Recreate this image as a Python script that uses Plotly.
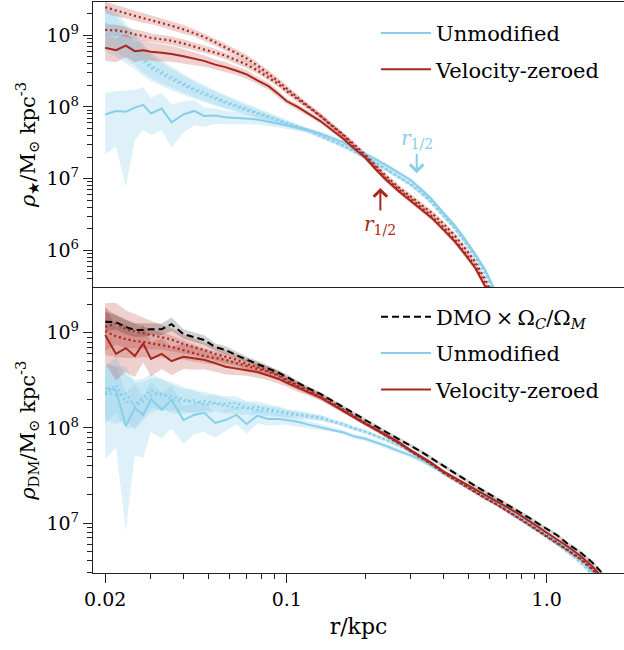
import math
import plotly.graph_objects as go

# ---------------- data ----------------
r_star = [0.020, 0.022, 0.024, 0.026, 0.028, 0.030, 0.033, 0.036, 0.040, 0.044,
          0.048, 0.053, 0.058, 0.064, 0.070, 0.077, 0.085, 0.093, 0.10, 0.11,
          0.12, 0.135, 0.15, 0.165, 0.18, 0.20, 0.22, 0.24, 0.27, 0.30,
          0.33, 0.36, 0.40, 0.44, 0.48, 0.53, 0.58, 0.64, 0.70, 0.77]
r_dm = [0.020, 0.022, 0.024, 0.026, 0.028, 0.030, 0.033, 0.036, 0.040, 0.044,
        0.048, 0.053, 0.058, 0.064, 0.070, 0.077, 0.085, 0.093, 0.10, 0.11,
        0.12, 0.135, 0.15, 0.165, 0.18, 0.20, 0.22, 0.24, 0.27, 0.30,
        0.33, 0.36, 0.40, 0.44, 0.48, 0.53, 0.58, 0.64, 0.70, 0.77,
        0.85, 0.93, 1.0, 1.1, 1.2, 1.35, 1.5, 1.65]

# stellar density, Msun/kpc^3
star_unmod = [7.85e7, 8.8e7, 8.6e7, 9.8e7, 1.07e8, 8.1e7, 9.5e7, 6.1e7, 7.85e7, 8.8e7,
              7.5e7, 7.6e7, 7.2e7, 7.0e7, 6.9e7, 6.7e7, 6.2e7, 5.8e7, 5.5e7, 5.1e7,
              4.8e7, 4.25e7, 3.7e7, 3.2e7, 2.7e7, 2.24e7, 1.85e7, 1.55e7, 1.21e7, 9.5e6,
              7.0e6, 5.2e6, 3.35e6, 2.27e6, 1.5e6, 8.9e5, 5.3e5, 2.6e5, 1.3e5, 6.0e4]
star_unmod_dot_a = [1.47e9, 1.17e9, 8.2e8, 6.4e8, 4.8e8, 3.8e8, 3.1e8, 2.6e8, 2.13e8, 1.82e8,
                    1.57e8, 1.36e8, 1.19e8, 1.05e8, 9.4e7, 8.4e7, 7.4e7, 6.6e7, 6.0e7, 5.3e7,
                    4.8e7, 4.0e7, 3.4e7, 2.9e7, 2.47e7, 2.03e7, 1.68e7, 1.38e7, 1.07e7, 8.4e6,
                    6.4e6, 4.8e6, 3.1e6, 2.13e6, 1.4e6, 8.4e5, 5.0e5, 2.4e5, 1.2e5, 5.5e4]
star_unmod_dot_b = [1.2e9, 9.5e8, 7.2e8, 5.6e8, 4.3e8, 3.5e8, 2.85e8, 2.4e8, 2.0e8, 1.7e8,
                    1.48e8, 1.3e8, 1.14e8, 1.0e8, 9.0e7, 8.1e7, 7.2e7, 6.4e7, 5.8e7, 5.2e7,
                    4.65e7, 3.9e7, 3.3e7, 2.85e7, 2.42e7, 2.0e7, 1.65e7, 1.36e7, 1.05e7, 8.2e6,
                    6.2e6, 4.6e6, 3.0e6, 2.05e6, 1.35e6, 8.0e5, 4.7e5, 2.3e5, 1.1e5, 5.0e4]
star_vz = [6.7e8, 6.2e8, 7.2e8, 6.0e8, 6.2e8, 5.9e8, 5.7e8, 5.5e8, 5.1e8, 4.7e8,
           4.4e8, 3.9e8, 3.6e8, 3.2e8, 2.85e8, 2.35e8, 1.95e8, 1.5e8, 1.2e8, 1.0e8,
           8.2e7, 6.3e7, 4.7e7, 3.6e7, 2.7e7, 1.97e7, 1.34e7, 9.7e6, 6.6e6, 4.9e6,
           3.7e6, 2.85e6, 1.94e6, 1.36e6, 9.2e5, 5.7e5, 3.1e5, 1.6e5, 8.0e4, 4.0e4]
star_vz_dot_a = [2.47e9, 2.2e9, 2.03e9, 1.87e9, 1.74e9, 1.65e9, 1.5e9, 1.36e9, 1.21e9, 1.08e9,
                 9.5e8, 8.0e8, 6.8e8, 5.7e8, 4.77e8, 3.8e8, 2.94e8, 2.27e8, 1.8e8, 1.36e8,
                 1.05e8, 7.6e7, 5.5e7, 4.1e7, 3.09e7, 2.17e7, 1.52e7, 1.1e7, 7.5e6, 5.6e6,
                 4.3e6, 3.35e6, 2.35e6, 1.65e6, 1.12e6, 6.9e5, 3.9e5, 2.0e5, 1.0e5, 5.0e4]
star_vz_dot_b = [1.19e9, 1.17e9, 1.12e9, 1.03e9, 9.8e8, 9.2e8, 8.8e8, 8.4e8, 7.7e8, 7.0e8,
                 6.4e8, 5.8e8, 5.2e8, 4.5e8, 3.9e8, 3.24e8, 2.6e8, 2.07e8, 1.65e8, 1.27e8,
                 1.02e8, 7.4e7, 5.3e7, 4.0e7, 2.9e7, 2.05e7, 1.42e7, 1.02e7, 7.0e6, 5.2e6,
                 3.95e6, 3.0e6, 2.1e6, 1.45e6, 9.8e5, 6.1e5, 3.4e5, 1.7e5, 8.5e4, 4.0e4]

# scatter half-widths (dex)
star_unmod_hi = [0.30, 0.28, 0.30, 0.25, 0.25, 0.22, 0.22, 0.25, 0.18, 0.15,
                 0.12, 0.10, 0.09, 0.08, 0.07, 0.06, 0.05, 0.05, 0.04, 0.04] + [0.03] * 20
star_unmod_lo = [0.55, 0.50, 1.05, 0.45, 0.35, 0.30, 0.30, 0.35, 0.25, 0.20,
                 0.15, 0.12, 0.10, 0.09, 0.08, 0.07, 0.06, 0.05, 0.05, 0.04] + [0.03] * 20
star_unmod_dot_err = [0.30, 0.28, 0.25, 0.22, 0.20, 0.18, 0.16, 0.15, 0.13, 0.12,
                      0.11, 0.10, 0.09, 0.08, 0.07, 0.06, 0.05, 0.05, 0.045, 0.04] + [0.03] * 20
star_vz_err = [0.18, 0.17, 0.16, 0.15, 0.14, 0.13, 0.12, 0.11, 0.10, 0.09,
               0.08, 0.07, 0.07, 0.06, 0.06, 0.05, 0.05, 0.05, 0.04, 0.04] + [0.035] * 20
star_vz_dot_err = [0.08, 0.08, 0.07, 0.07, 0.07, 0.06, 0.06, 0.06, 0.06, 0.05,
                   0.05, 0.05, 0.05, 0.05, 0.05, 0.045, 0.045, 0.04, 0.04, 0.04] + [0.035] * 20

# dark-matter density, Msun/kpc^3
dm_dmo = [1.31e9, 1.29e9, 1.15e9, 1.07e9, 1.07e9, 1.09e9, 1.09e9, 1.23e9, 9.7e8, 9.0e8,
          8.4e8, 7.1e8, 6.6e8, 5.8e8, 5.2e8, 4.7e8, 4.2e8, 3.8e8, 3.43e8, 2.97e8,
          2.63e8, 2.27e8, 1.92e8, 1.62e8, 1.42e8, 1.21e8, 1.04e8, 9.1e7, 7.6e7, 6.5e7,
          5.6e7, 4.8e7, 4.0e7, 3.37e7, 2.88e7, 2.46e7, 2.13e7, 1.82e7, 1.57e7, 1.35e7,
          1.15e7, 9.8e6, 8.7e6, 7.4e6, 6.1e6, 4.9e6, 3.83e6, 2.9e6]
dm_unmod = [2.63e8, 2.5e8, 1.05e8, 1.62e8, 1.37e8, 2.01e8, 1.55e8, 1.97e8, 1.21e8, 1.37e8,
            1.44e8, 1.13e8, 1.21e8, 1.37e8, 1.1e8, 1.34e8, 1.24e8, 1.24e8, 1.21e8, 1.16e8,
            1.09e8, 1.02e8, 9.6e7, 8.97e7, 8.2e7, 7.7e7, 7.05e7, 6.5e7, 5.7e7, 5.15e7,
            4.56e7, 4.0e7, 3.37e7, 2.92e7, 2.55e7, 2.18e7, 1.89e7, 1.63e7, 1.41e7, 1.21e7,
            1.02e7, 8.7e6, 7.6e6, 6.4e6, 5.4e6, 4.2e6, 3.1e6, 2.3e6]
dm_unmod_dot_a = [2.22e8, 2.83e8, 1.88e8, 1.79e8, 2.07e8, 2.5e8, 2.22e8, 2.17e8, 2.01e8, 1.83e8,
                  1.92e8, 1.83e8, 1.79e8, 1.83e8, 1.62e8, 1.66e8, 1.58e8, 1.51e8, 1.44e8, 1.39e8,
                  1.35e8, 1.29e8, 1.18e8, 1.1e8, 1.0e8, 9.2e7, 8.3e7, 7.6e7, 6.6e7, 5.7e7,
                  4.97e7, 4.24e7, 3.45e7, 2.95e7, 2.55e7, 2.16e7, 1.87e7, 1.6e7, 1.38e7, 1.16e7,
                  9.8e6, 8.3e6, 7.2e6, 6.1e6, 5.1e6, 3.9e6, 2.9e6, 2.1e6]
dm_unmod_dot_b = [2.4e8, 2.2e8, 2.3e8, 1.7e8, 1.9e8, 2.2e8, 2.3e8, 2.0e8, 1.9e8, 1.95e8,
                  1.75e8, 1.8e8, 1.7e8, 1.65e8, 1.6e8, 1.55e8, 1.5e8, 1.46e8, 1.41e8, 1.36e8,
                  1.32e8, 1.26e8, 1.16e8, 1.08e8, 9.9e7, 9.1e7, 8.2e7, 7.5e7, 6.5e7, 5.65e7,
                  4.9e7, 4.2e7, 3.42e7, 2.93e7, 2.53e7, 2.15e7, 1.86e7, 1.59e7, 1.37e7, 1.15e7,
                  9.7e6, 8.2e6, 7.1e6, 6.0e6, 5.0e6, 3.85e6, 2.85e6, 2.05e6]
dm_vz = [9.5e8, 6.0e8, 6.9e8, 5.7e8, 7.7e8, 5.3e8, 6.0e8, 5.05e8, 5.6e8, 5.4e8,
         5.2e8, 4.8e8, 4.4e8, 4.2e8, 4.06e8, 3.87e8, 3.56e8, 3.27e8, 2.97e8, 2.63e8,
         2.39e8, 2.07e8, 1.74e8, 1.49e8, 1.3e8, 1.1e8, 9.6e7, 8.4e7, 7.05e7, 5.8e7,
         4.97e7, 4.3e7, 3.5e7, 3.03e7, 2.65e7, 2.26e7, 1.98e7, 1.71e7, 1.48e7, 1.27e7,
         1.06e7, 9.0e6, 7.9e6, 6.7e6, 5.7e6, 4.5e6, 3.5e6, 2.6e6]
dm_vz_dot_a = [1.15e9, 1.25e9, 1.09e9, 1.04e9, 9.9e8, 9.5e8, 9.0e8, 8.5e8, 7.6e8, 7.1e8,
               6.6e8, 6.0e8, 5.6e8, 5.2e8, 4.7e8, 4.37e8, 3.97e8, 3.6e8, 3.19e8, 2.83e8,
               2.5e8, 2.17e8, 1.83e8, 1.55e8, 1.35e8, 1.14e8, 9.8e7, 8.4e7, 6.97e7, 5.7e7,
               4.9e7, 4.2e7, 3.41e7, 2.92e7, 2.52e7, 2.13e7, 1.84e7, 1.6e7, 1.38e7, 1.16e7,
               9.8e6, 8.4e6, 7.4e6, 6.2e6, 5.25e6, 4.2e6, 3.3e6, 2.6e6]
dm_vz_dot_b = [1.04e9, 9.2e8, 8.6e8, 8.2e8, 8.0e8, 7.7e8, 7.4e8, 7.1e8, 6.6e8, 6.1e8,
               5.7e8, 5.4e8, 5.2e8, 4.8e8, 4.47e8, 4.16e8, 3.87e8, 3.52e8, 3.11e8, 2.75e8,
               2.43e8, 2.1e8, 1.78e8, 1.52e8, 1.32e8, 1.12e8, 9.6e7, 8.3e7, 6.9e7, 5.65e7,
               4.85e7, 4.15e7, 3.38e7, 2.9e7, 2.5e7, 2.12e7, 1.82e7, 1.58e7, 1.36e7, 1.15e7,
               9.7e6, 8.3e6, 7.3e6, 6.1e6, 5.2e6, 4.15e6, 3.25e6, 2.55e6]

dm_dmo_err = [0.10, 0.08, 0.08, 0.07, 0.07, 0.06, 0.06, 0.07, 0.05, 0.05,
              0.05, 0.04, 0.04, 0.04, 0.035, 0.035, 0.03, 0.03, 0.03, 0.025] + [0.02] * 28
dm_unmod_hi = [0.25, 0.25, 0.35, 0.25, 0.20, 0.18, 0.18, 0.15, 0.15, 0.12,
               0.12, 0.10, 0.10, 0.08, 0.08, 0.07, 0.06, 0.05, 0.05, 0.04,
               0.04, 0.035] + [0.025] * 26
dm_unmod_lo = [0.75, 0.60, 1.10, 0.50, 0.45, 0.35, 0.30, 0.30, 0.25, 0.20,
               0.20, 0.15, 0.12, 0.10, 0.10, 0.08, 0.07, 0.06, 0.05, 0.05,
               0.04, 0.035] + [0.025] * 26
dm_unmod_dot_err = [0.30, 0.30, 0.28, 0.25, 0.20, 0.18, 0.16, 0.15, 0.13, 0.12,
                    0.10, 0.09, 0.08, 0.07, 0.07, 0.06, 0.05, 0.05, 0.04, 0.04,
                    0.035, 0.03] + [0.02] * 26
dm_vz_err = [0.30, 0.28, 0.25, 0.22, 0.20, 0.18, 0.16, 0.15, 0.13, 0.12,
             0.10, 0.09, 0.08, 0.07, 0.06, 0.06, 0.05, 0.05, 0.04, 0.04,
             0.035, 0.03] + [0.02] * 26
dm_vz_dot_err = [0.25, 0.22, 0.20, 0.18, 0.16, 0.15, 0.13, 0.12, 0.10, 0.09,
                 0.08, 0.07, 0.07, 0.06, 0.06, 0.05, 0.05, 0.045, 0.04, 0.04,
                 0.035, 0.03] + [0.02] * 26

x_tickvals = [0.02, 0.1, 1.0]
x_ticktext = ["0.02", "0.1", "1.0"]
star_tickvals = [1e6, 1e7, 1e8, 1e9]
dm_tickvals = [1e7, 1e8, 1e9]

r_half_vz = 0.229      # kpc
r_half_unmod = 0.316   # kpc
r_half_vz_tip = 7.4e6      # density where the arrow points
r_half_unmod_tip = 1.19e7

# ---------------- style ----------------
FONT = "DejaVu Serif"
BLUE = "#87CEEB"
RED = "#A8261C"
BLUE_FILL = "rgba(135,206,235,0.28)"
RED_FILL = "rgba(178,45,35,0.22)"
GREY_FILL = "rgba(0,0,0,0.18)"
AXC = "#222222"

fig = go.Figure()


def band(x, y, lo_dex, hi_dex, color, xa, ya):
    hi = [v * 10 ** e for v, e in zip(y, hi_dex)]
    lo = [v * 10 ** (-e) for v, e in zip(y, lo_dex)]
    fig.add_trace(go.Scatter(x=list(x) + list(x)[::-1], y=hi + lo[::-1],
                             fill="toself", fillcolor=color, line=dict(width=0),
                             mode="lines", hoverinfo="skip", showlegend=False,
                             xaxis=xa, yaxis=ya))


def line(x, y, color, dash, width, xa, ya, name=None, legend=None, group=None):
    fig.add_trace(go.Scatter(x=x, y=y, mode="lines",
                             line=dict(color=color, width=width, dash=dash),
                             name=name, showlegend=name is not None,
                             legend=legend, legendgroup=group,
                             xaxis=xa, yaxis=ya))


DOT = "2px,3px"

# ---- top panel (stars) ----
band(r_star, star_unmod_dot_a, star_unmod_dot_err, star_unmod_dot_err, BLUE_FILL, "x", "y")
band(r_star, star_unmod_dot_b, star_unmod_dot_err, star_unmod_dot_err, BLUE_FILL, "x", "y")
band(r_star, star_unmod, star_unmod_lo, star_unmod_hi, BLUE_FILL, "x", "y")
band(r_star, star_vz_dot_a, star_vz_dot_err, star_vz_dot_err, RED_FILL, "x", "y")
band(r_star, star_vz_dot_b, star_vz_dot_err, star_vz_dot_err, RED_FILL, "x", "y")
band(r_star, star_vz, star_vz_err, star_vz_err, RED_FILL, "x", "y")

line(r_star, star_unmod_dot_a, BLUE, DOT, 2.2, "x", "y")
line(r_star, star_unmod_dot_b, BLUE, DOT, 2.2, "x", "y")
line(r_star, star_unmod, BLUE, "solid", 2, "x", "y", "Unmodified", "legend", "u1")
line(r_star, star_vz_dot_a, RED, DOT, 2.2, "x", "y")
line(r_star, star_vz_dot_b, RED, DOT, 2.2, "x", "y")
line(r_star, star_vz, RED, "solid", 2, "x", "y", "Velocity-zeroed", "legend", "v1")

# ---- bottom panel (dark matter) ----
band(r_dm, dm_unmod_dot_a, dm_unmod_dot_err, dm_unmod_dot_err, BLUE_FILL, "x2", "y2")
band(r_dm, dm_unmod_dot_b, dm_unmod_dot_err, dm_unmod_dot_err, BLUE_FILL, "x2", "y2")
band(r_dm, dm_unmod, dm_unmod_lo, dm_unmod_hi, BLUE_FILL, "x2", "y2")
band(r_dm, dm_vz_dot_a, dm_vz_dot_err, dm_vz_dot_err, RED_FILL, "x2", "y2")
band(r_dm, dm_vz_dot_b, dm_vz_dot_err, dm_vz_dot_err, RED_FILL, "x2", "y2")
band(r_dm, dm_vz, dm_vz_err, dm_vz_err, RED_FILL, "x2", "y2")
band(r_dm, dm_dmo, dm_dmo_err, dm_dmo_err, GREY_FILL, "x2", "y2")

line(r_dm, dm_dmo, "black", "7px,4px", 2, "x2", "y2",
     "DMO\u2009×\u2009Ω<sub><i>C</i></sub>/Ω<sub><i>M</i></sub>", "legend2", "d2")
line(r_dm, dm_unmod_dot_a, BLUE, DOT, 2.2, "x2", "y2")
line(r_dm, dm_unmod_dot_b, BLUE, DOT, 2.2, "x2", "y2")
line(r_dm, dm_unmod, BLUE, "solid", 2, "x2", "y2", "Unmodified", "legend2", "u2")
line(r_dm, dm_vz_dot_a, RED, DOT, 2.2, "x2", "y2")
line(r_dm, dm_vz_dot_b, RED, DOT, 2.2, "x2", "y2")
line(r_dm, dm_vz, RED, "solid", 2, "x2", "y2", "Velocity-zeroed", "legend2", "v2")

# ---------------- axes ----------------
xrange = [math.log10(0.01795), math.log10(1.983)]
minor_x = [0.03, 0.04, 0.05, 0.06, 0.07, 0.08, 0.09,
           0.2, 0.3, 0.4, 0.5, 0.6, 0.7, 0.8, 0.9]
minor_y = [k * 10 ** n for n in range(5, 10) for k in range(2, 10)]

common_x = dict(type="log", range=xrange, showgrid=False, zeroline=False,
                showline=True, linecolor=AXC, linewidth=1.3, mirror=True)
common_y = dict(type="log", showgrid=False, zeroline=False, showline=True,
                linecolor=AXC, linewidth=1.3, ticks="outside", ticklen=9,
                tickwidth=1.2, tickcolor=AXC,
                minor=dict(ticks="outside", ticklen=5, tickwidth=1, tickcolor=AXC,
                           tickvals=minor_y, showgrid=False),
                tickfont=dict(family=FONT, size=19, color="black"))


def sup_labels(vals):
    return ["10<sup>%d</sup>" % round(math.log10(v)) for v in vals]


fig.update_layout(
    width=624, height=650,
    margin=dict(l=93, r=0, t=2, b=77),
    plot_bgcolor="white", paper_bgcolor="white",
    font=dict(family=FONT, size=19, color="black"),
    xaxis=dict(**common_x, anchor="y", showticklabels=False, ticks="", matches="x2"),
    xaxis2=dict(**common_x, anchor="y2", tickvals=x_tickvals, ticktext=x_ticktext,
                ticks="outside", ticklen=9, tickwidth=1.2, tickcolor=AXC,
                minor=dict(ticks="outside", ticklen=5, tickwidth=1, tickcolor=AXC,
                           tickvals=minor_x, showgrid=False),
                tickfont=dict(family=FONT, size=19, color="black"),
                title=dict(text="r/kpc", font=dict(family=FONT, size=22), standoff=9)),
    yaxis=dict(**common_y, domain=[0.501, 1.0], anchor="x",
               range=[5.488, 9.465], tickvals=star_tickvals,
               ticktext=sup_labels(star_tickvals),
               title=dict(text="<i>ρ</i><sub>★</sub>/M<sub>⊙</sub> kpc<sup>-3</sup>",
                          font=dict(family=FONT, size=21), standoff=5)),
    yaxis2=dict(**common_y, domain=[0.0, 0.5], anchor="x2",
                range=[6.475, 9.476], tickvals=dm_tickvals,
                ticktext=sup_labels(dm_tickvals),
                title=dict(text="<i>ρ</i><sub>DM</sub>/M<sub>⊙</sub> kpc<sup>-3</sup>",
                           font=dict(family=FONT, size=21), standoff=5)),
    legend=dict(x=0.533, y=0.981, xanchor="left", yanchor="top",
                bgcolor="rgba(0,0,0,0)", borderwidth=0, tracegroupgap=6,
                font=dict(family=FONT, size=21), itemwidth=50),
    legend2=dict(x=0.533, y=0.484, xanchor="left", yanchor="top",
                 bgcolor="rgba(0,0,0,0)", borderwidth=0, tracegroupgap=6,
                 font=dict(family=FONT, size=21), itemwidth=50),
    showlegend=True,
)

# r_1/2 markers (top panel): label with an arrow pointing to the profile
ann_font = dict(family=FONT, size=20)
fig.add_annotation(x=math.log10(r_half_vz), y=math.log10(r_half_vz_tip), xref="x", yref="y",
                   text="<i>r</i><sub>1/2</sub>", showarrow=True, ax=0, ay=37,
                   arrowhead=4, arrowsize=1.3, arrowwidth=2, arrowcolor=RED,
                   font=dict(color=RED, **ann_font))
fig.add_annotation(x=math.log10(r_half_unmod), y=math.log10(r_half_unmod_tip), xref="x", yref="y",
                   text="<i>r</i><sub>1/2</sub>", showarrow=True, ax=0, ay=-34,
                   arrowhead=4, arrowsize=1.3, arrowwidth=2, arrowcolor=BLUE,
                   font=dict(color=BLUE, **ann_font))

fig.write_html("out.html")
